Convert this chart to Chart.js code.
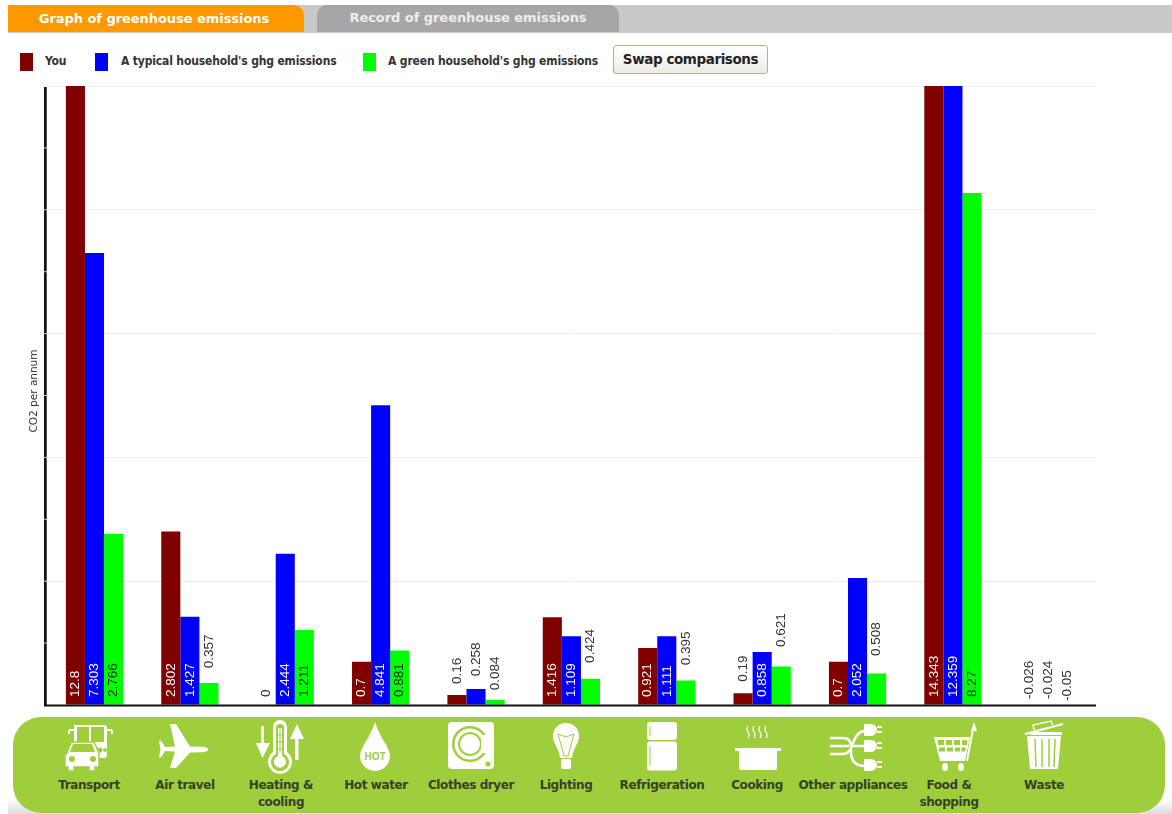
<!DOCTYPE html>
<html lang="en">
<head>
    <meta charset="UTF-8">
    <title>Graph of greenhouse emissions</title>
    <script src="https://cdn.jsdelivr.net/npm/chart.js"></script>
    <style>
        body { margin: 0; background: white; font-family: 'DejaVu Sans', sans-serif; }
        #page { position: relative; width: 1172px; height: 814px; overflow: hidden; }
        .topbar { position: absolute; left: 8px; top: 5px; width: 1164px; height: 28px; background: #c9c9c9; }
        .tab {
            position: absolute; top: 5px; height: 27px; line-height: 28px; text-align: center;
            color: white; font-weight: bold; font-size: 13px; letter-spacing: -0.05px;
            border-radius: 0 10px 0 0; box-sizing: border-box;
        }
        .tab.on { left: 8px; width: 296px; background: #ff9900; padding-right: 4px; }
        .tab.off { left: 317px; width: 302px; background: #a6a6a6; border-radius: 10px 10px 0 0; line-height: 26px; color: #eeeeee; }
        .swatch { position: absolute; top: 53px; width: 13px; height: 18px; }
        .legend-text { position: absolute; top: 54px; font-family: 'DejaVu Sans Condensed', 'DejaVu Sans', sans-serif; font-size: 12px; font-weight: bold; color: #333; white-space: nowrap; letter-spacing: -0.15px; }
        button {
            position: absolute; left: 613px; top: 45px; width: 155px; height: 29px; padding: 0 0 2px 0;
            font-family: 'DejaVu Sans', sans-serif; font-size: 13.5px; font-weight: bold; color: #222; letter-spacing: -0.42px;
            background: linear-gradient(#ffffff, #ecece6); border: 1px solid #a9b58c; border-radius: 3px;
        }
        #chartWrap { position: absolute; left: 0; top: 76px; }
        .ytitle {
            position: absolute; left: -17px; top: 384px; width: 100px; text-align: center;
            font-size: 10.5px; line-height: 14px; color: #333; transform: rotate(-90deg);
        }
        .shadow { position: absolute; left: 8px; top: 798px; width: 1164px; height: 16px; background: linear-gradient(#ffffff, #dddddd); }
        .band { position: absolute; left: 13px; top: 717px; width: 1152px; height: 96px; background: #9fce3c; border-radius: 28px; }
        .icon { position: absolute; top: 717px; width: 60px; height: 60px; }
        .cat {
            position: absolute; top: 777px; width: 120px; text-align: center; font-size: 12px; line-height: 17px;
            font-weight: bold; color: #37402a; letter-spacing: -0.4px;
        }
    </style>
</head>
<body>
<div id="page">
    <div class="topbar"></div>
    <div class="tab on">Graph of greenhouse emissions</div>
    <div class="tab off">Record of greenhouse emissions</div>
    <div id="legend"></div>
    <button>Swap comparisons</button>
    <div id="chartWrap"><canvas id="emissionsChart" width="1172" height="640"></canvas></div>
    <div class="ytitle">CO2 per annum</div>
    <div class="shadow"></div>
    <div class="band"></div>
    <div id="cats"></div>
</div>

<script>
    const categories = ["Transport", "Air travel", "Heating &\ncooling", "Hot water", "Clothes dryer", "Lighting",
        "Refrigeration", "Cooking", "Other appliances", "Food &\nshopping", "Waste"];
    const seriesNames = ["You", "A typical household's ghg emissions", "A green household's ghg emissions"];
    const seriesColors = ["#800000", "#0000ff", "#00ff00"];
    const you = [12.8, 2.802, 0, 0.7, 0.16, 1.416, 0.921, 0.19, 0.7, 14.343, -0.026];
    const typical = [7.303, 1.427, 2.444, 4.841, 0.258, 1.109, 1.111, 0.858, 2.052, 12.359, -0.024];
    const green = [2.766, 0.357, 1.211, 0.881, 0.084, 0.424, 0.395, 0.621, 0.508, 8.27, -0.05];
    const insideColors = ["#ffffff", "#ffffff", "#002200"];
    const yMax = 10;

    // white pictograms for the green band, drawn on a 60x60 box
    const G = "#9fce3c";
    const icons = [
        // bus and car
        `<path d="M17 8h30a3 3 0 0 1 3 3v27a3 3 0 0 1-3 3H17z" fill="#fff"/><path d="M20 10h12v15H20zM34 10h13v15H34z" fill="${G}"/>
         <path d="M12 13h5M50 13h5M12 13v4M55 13v4" stroke="#fff" stroke-width="2" fill="none"/><circle cx="43" cy="33" r="2.5" fill="${G}"/><circle cx="48" cy="33" r="2" fill="${G}"/>
         <path d="M10 36l4-11h23l5 11v14h-4v4h-6v-4H17v4h-6v-4H8V38z" fill="#fff" stroke="${G}" stroke-width="1.5"/><path d="M16 27h19l3 8H13z" fill="${G}"/><circle cx="15" cy="42" r="3" fill="${G}"/><circle cx="36" cy="42" r="3" fill="${G}"/>`,
        // plane
        `<path d="M6 24q2-1 3 1l3 5 10-.5L17 7h6l14 22.5 13 .3q5 .7 5 2.7t-5 2.7l-13 .3L23 51h-6l5-16.500-10-.5-3 5q-1 2-3 1l1.500-7.500z" fill="#fff"/>`,
        // thermometer with arrows
        `<path d="M11 9h3v17h6L12.500 41 6 26h5z" fill="#fff"/><path d="M47 7l7 15h-5.500v21h-3.500V22h-5z" fill="#fff"/>
         <path d="M23 10a7 7 0 0 1 14 0v25a12 12 0 1 1-14 0z" fill="#fff"/><path d="M26 11a4 4 0 0 1 8 0v26a9 9 0 1 1-8 0z" fill="${G}"/><path d="M28 11h4v28a6 6 0 1 1-4 0z" fill="#fff"/>
         <path d="M26 18h8M26 25h8M26 32h8M30 8v28" stroke="${G}" stroke-width="1"/>`,
        // hot water drop
        `<path d="M30 5q4 12 10 21 5 8 5 13a15 15 0 0 1-30 0q0-5 5-13 6-9 10-21z" fill="#fff"/><text x="30" y="43" text-anchor="middle" font-size="10" font-weight="bold" fill="${G}" font-family="Liberation Sans">HOT</text>`,
        // clothes dryer
        `<rect x="7" y="5" width="46" height="47" rx="4" fill="#fff"/><circle cx="29" cy="27" r="18" fill="${G}"/><circle cx="29" cy="27" r="15.500" fill="#fff"/><circle cx="29" cy="27" r="12" fill="${G}"/><circle cx="29" cy="27" r="10" fill="#fff"/><rect x="40" y="18" width="8" height="18" fill="#fff"/><circle cx="47" cy="47" r="2.500" fill="${G}"/>`,
        // light bulb
        `<path d="M30 6c8 0 13 6 13 13 0 8-6 12-7 22H24c-1-10-7-14-7-22 0-7 5-13 13-13z" fill="#fff"/><path d="M22 17l8 3 8-3-6 22h-4z" fill="none" stroke="${G}" stroke-width="1"/><rect x="25" y="42" width="10" height="10" rx="2" fill="#fff"/>`,
        // fridge
        `<rect x="15" y="5" width="30" height="18" rx="3" fill="#fff"/><rect x="15" y="24.500" width="30" height="29" rx="3" fill="#fff"/><path d="M18 9v10M18 29v20" stroke="${G}" stroke-width="1"/>`,
        // cooking pot
        `<path d="M7 31h46v3h-4v17q0 2-2 2H13q-2 0-2-2V34H7z" fill="#fff"/><path d="M20 9q-2 3 0 6t0 6M26 9q-2 3 0 6t0 6M32 9q-2 3 0 6t0 6M38 9q-2 3 0 6t0 6" stroke="#fff" stroke-width="1.300" fill="none"/>`,
        // plugs
        `<path d="M6 21h13q8 0 8 8v6q0 14 14 14h4M6 29h19M6 37h13q6 0 9-8 3-9 6-12t11-4M29 29h16" stroke="#fff" stroke-width="2.500" fill="none"/>
         <g fill="#fff"><path d="M40 7h7a6 6 0 0 1 6 6 6 6 0 0 1-6 6h-7zM53 9h5v2h-5zM53 14h5v2h-5z"/><path d="M40 23h7a6 6 0 0 1 6 6 6 6 0 0 1-6 6h-7zM53 25h5v2h-5zM53 30h5v2h-5z"/><path d="M40 42h7a6 6 0 0 1 6 6 6 6 0 0 1-6 6h-7zM53 44h5v2h-5zM53 49h5v2h-5z"/></g>`,
        // shopping cart
        `<path d="M11 20h36l-5 24H17z" fill="#fff"/><g fill="${G}"><rect x="15" y="23" width="6" height="5"/><rect x="23" y="23" width="6" height="5"/><rect x="31" y="23" width="6" height="5"/><rect x="39" y="23" width="5" height="5"/><rect x="16" y="30.500" width="6" height="4"/><rect x="24" y="30.500" width="6" height="4"/><rect x="32" y="30.500" width="5" height="4"/><rect x="38.500" y="30.500" width="4" height="4"/></g>
         <path d="M44 44l6-32" stroke="#fff" stroke-width="2"/><path d="M51 5l3 9h-6z" fill="#fff"/><ellipse cx="22" cy="50" rx="3" ry="4" fill="#fff"/><ellipse cx="38" cy="50" rx="3" ry="4" fill="#fff"/>`,
        // bin
        `<path d="M13 19l3 33h28l3-33z" fill="#fff"/><path d="M21 22l1 28M28 22v28M35 22v28M41 22l-1 28" stroke="${G}" stroke-width="1.500"/><path d="M11 17l38-10" stroke="#fff" stroke-width="2"/><path d="M20 13l-1-5 18-4 2 4" fill="none" stroke="#fff" stroke-width="1.500"/><path d="M16 15h32v3H16z" fill="#fff"/>`
    ];
    const iconCentres = [87, 183, 280, 375, 471, 566, 662, 758, 854, 953, 1044];
    const catCentres = [89, 185, 281, 376, 471, 566, 662, 757, 853, 949, 1044];

    // legend, hand positioned like the reference
    const swatchLeft = [20, 95, 363];
    const textLeft = [45, 121, 388];
    document.getElementById("legend").innerHTML = seriesNames.map((name, i) =>
        `<div class="swatch" style="left:${swatchLeft[i]}px;background:${seriesColors[i]}"></div>` +
        `<div class="legend-text" style="left:${textLeft[i]}px">${name}</div>`).join("");

    document.getElementById("cats").innerHTML = categories.map((name, i) =>
        `<svg class="icon" viewBox="0 0 60 60" style="left:${iconCentres[i] - 30}px">${icons[i]}</svg>` +
        `<div class="cat" style="left:${catCentres[i] - 60}px">${name.replace("\n", "<br>")}</div>`).join("");

    const axisPlugin = {
        id: "axisLines",
        afterDraw(chart) {
            const { ctx, chartArea: area, scales: { y } } = chart;
            ctx.save();
            ctx.fillStyle = "#111";
            ctx.fillRect(44, area.top + 1, 2.7, area.bottom - area.top);
            ctx.fillRect(44, area.bottom - 0.5, area.right - 44, 2);
            // the small ticks show as light notches on the axis line
            ctx.fillStyle = "#cfcfcf";
            y.ticks.forEach(t => {
                if (t.value > 0 && t.value < yMax) ctx.fillRect(44, y.getPixelForValue(t.value) - 0.5, 3.5, 1);
            });
            ctx.restore();
        }
    };

    const valueLabels = {
        id: "valueLabels",
        afterDatasetsDraw(chart) {
            const { ctx, scales: { y } } = chart;
            const zero = y.getPixelForValue(0);
            ctx.save();
            ctx.font = "13.5px 'Liberation Sans'";
            ctx.textAlign = "left";
            ctx.textBaseline = "middle";
            chart.data.datasets.forEach((ds, d) => {
                chart.getDatasetMeta(d).data.forEach((bar, i) => {
                    const value = ds.data[i];
                    const text = String(value);
                    const h = zero - y.getPixelForValue(value);
                    const inside = h >= ctx.measureText(text).width + 8;
                    const start = inside ? zero - 8 : zero - h - 8 - 0.3 * h;
                    ctx.save();
                    ctx.translate(bar.x, start);
                    ctx.rotate(-Math.PI / 2);
                    ctx.fillStyle = inside ? insideColors[d] : "#333";
                    ctx.fillText(text, 0, 0);
                    ctx.restore();
                });
            });
            ctx.restore();
        }
    };

    new Chart(document.getElementById("emissionsChart"), {
        type: "bar",
        data: {
            labels: categories,
            datasets: [you, typical, green].map((values, i) => ({
                label: seriesNames[i],
                data: values,
                backgroundColor: seriesColors[i],
                categoryPercentage: 0.6,
                barPercentage: 1
            }))
        },
        options: {
            responsive: false,
            animation: false,
            devicePixelRatio: 1,
            layout: { padding: { top: 10, right: 76, bottom: 11, left: 0 } },
            plugins: { legend: { display: false }, tooltip: { enabled: false } },
            scales: {
                x: { display: false },
                y: {
                    min: 0,
                    max: yMax,
                    afterFit(scale) { scale.width = 46.8; },
                    border: { display: false },
                    ticks: { display: false, stepSize: 1 },
                    grid: {
                        drawTicks: false,
                        color: ctx => (ctx.tick.value % 2 === 0 && ctx.tick.value > 0 ? "#eeeeee" : "transparent")
                    }
                }
            }
        },
        plugins: [axisPlugin, valueLabels]
    });
</script>
</body>
</html>
